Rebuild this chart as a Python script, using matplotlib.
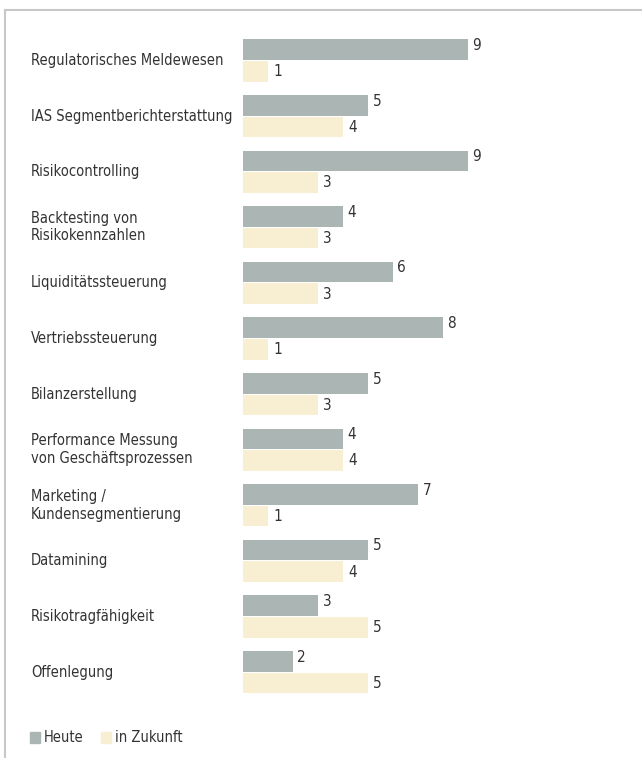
import matplotlib
matplotlib.use("Agg")
import matplotlib.pyplot as plt
from matplotlib.lines import Line2D
from matplotlib.patches import Patch

categories = [
    "Regulatorisches Meldewesen",
    "IAS Segmentberichterstattung",
    "Risikocontrolling",
    "Backtesting von\nRisikokennzahlen",
    "Liquiditätssteuerung",
    "Vertriebssteuerung",
    "Bilanzerstellung",
    "Performance Messung\nvon Geschäftsprozessen",
    "Marketing /\nKundensegmentierung",
    "Datamining",
    "Risikotragfähigkeit",
    "Offenlegung",
]
heute = [9, 5, 9, 4, 6, 8, 5, 4, 7, 5, 3, 2]
zukunft = [1, 4, 3, 3, 3, 1, 3, 4, 1, 4, 5, 5]
series_names = ["Heute", "in Zukunft"]

c_heute = "#aab5b4"
c_zuk = "#f8efd3"
plt.rcParams['font.family'] = ['DejaVu Sans']
plt.rcParams['font.stretch'] = 'condensed'

W, H = 642, 758
fig = plt.figure(figsize=(W / 100, H / 100), dpi=100)

# axes in pixel terms: value 0 at x=243, 25 px per unit
left, right = 243, 618
top, bottom = 20, 710
ax = fig.add_axes([left / W, 1 - bottom / H, (right - left) / W, (bottom - top) / H])
step = 55.6
y_top = -(60.5 - top) / step
y_bot = (bottom - 60.5) / step
ax.set_xlim(0, (right - left) / 25)
ax.set_ylim(y_bot, y_top)

ys = list(range(len(categories)))
ax.barh([y - 0.195 for y in ys], heute, height=0.37, color=c_heute, linewidth=0)
ax.barh([y + 0.195 for y in ys], zukunft, height=0.37, color=c_zuk, linewidth=0)

for y, v in zip(ys, heute):
    ax.text(v + 0.18, y - 0.27, str(v), va="center", ha="left", fontsize=11, color="#333333")
for y, v in zip(ys, zukunft):
    ax.text(v + 0.2, y + 0.2, str(v), va="center", ha="left", fontsize=11, color="#333333")

for y, lab in zip(ys, categories):
    fy = 1 - (60.5 + y * step) / H
    fig.text(31 / W, fy, lab, ha="left", va="center", fontsize=10.5, color="#333333",
             linespacing=1.2)

ax.axis("off")

# frame lines on top and left
fig.add_artist(Line2D([5 / W, 1], [1 - 10 / H, 1 - 10 / H], color="#c8c8c8", lw=1.5))
fig.add_artist(Line2D([5 / W, 5 / W], [0, 1 - 10 / H], color="#c8c8c8", lw=1.5))

handles = [Patch(color=c_heute), Patch(color=c_zuk)]
fig.legend(handles, series_names, loc="center left", bbox_to_anchor=(17 / W, 1 - 738 / H),
           ncol=2, frameon=False, fontsize=10.5, handlelength=0.7, handleheight=0.7,
           handletextpad=0.25, columnspacing=1.2, labelcolor="#333333")

fig.savefig("out.png", dpi=100)
